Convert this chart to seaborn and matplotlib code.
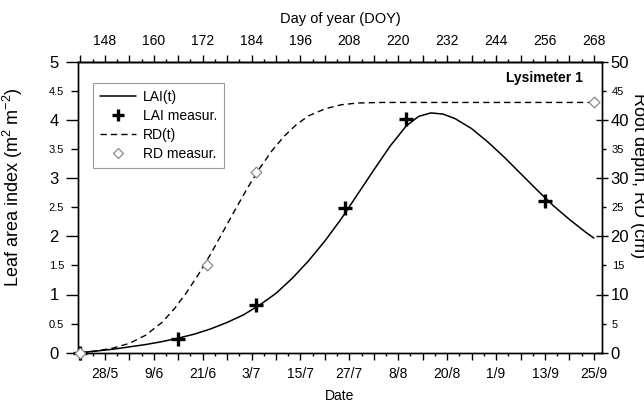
import datetime as dt
import numpy as np
import pandas as pd
import matplotlib
matplotlib.use("Agg")
import matplotlib.pyplot as plt
import seaborn as sns
from matplotlib.ticker import FixedLocator, FuncFormatter, MultipleLocator
from matplotlib.lines import Line2D

# ---- data ----
lai_curve_doy = [142, 146, 150, 154, 158, 162, 166, 170, 174, 178, 182, 186, 190, 194,
                 198, 202, 206, 210, 214, 218, 222, 225, 228, 231, 234, 238, 242, 246,
                 250, 254, 258, 262, 266, 268]
lai_curve_val = [0.0, 0.03, 0.06, 0.10, 0.14, 0.19, 0.25, 0.32, 0.41, 0.52, 0.65, 0.82, 1.02, 1.28,
                 1.58, 1.92, 2.30, 2.72, 3.14, 3.55, 3.90, 4.06, 4.12, 4.10, 4.02, 3.85, 3.62, 3.36,
                 3.08, 2.80, 2.53, 2.29, 2.07, 1.97]
rd_curve_doy = [142, 146, 150, 154, 158, 162, 165, 168, 171, 174, 177, 180, 183, 186,
                189, 192, 195, 198, 202, 206, 210, 216, 230, 268]
rd_curve_val = [0.0, 0.3, 0.8, 1.6, 3.0, 5.2, 7.5, 10.3, 13.5, 17.0, 20.8, 24.6, 28.3, 31.7,
                34.7, 37.2, 39.2, 40.7, 41.9, 42.6, 42.9, 43.0, 43.0, 43.0]
lai_meas_doy = [142, 166, 185, 207, 222, 256]
lai_meas_val = [0.0, 0.24, 0.82, 2.48, 4.02, 2.60]
rd_meas_doy = [142, 173, 185, 268]
rd_meas_val = [0.0, 15.0, 31.0, 43.0]
doy_labels = [148, 160, 172, 184, 196, 208, 220, 232, 244, 256, 268]

lai_curve = pd.DataFrame({"doy": lai_curve_doy, "lai": lai_curve_val})
rd_curve = pd.DataFrame({"doy": rd_curve_doy, "rd": rd_curve_val})
lai_meas = pd.DataFrame({"doy": lai_meas_doy, "lai": lai_meas_val})
rd_meas = pd.DataFrame({"doy": rd_meas_doy, "rd": rd_meas_val})

sns.set_theme(style="ticks", rc={"axes.edgecolor": "black", "axes.linewidth": 1.0,
                                 "xtick.color": "black", "ytick.color": "black",
                                 "text.color": "black", "axes.labelcolor": "black"})
plt.rcParams["font.family"] = ["Liberation Sans", "DejaVu Sans"]
plt.rcParams["mathtext.fontset"] = "custom"
plt.rcParams["mathtext.rm"] = "Liberation Sans"
plt.rcParams["mathtext.it"] = "Liberation Sans:italic"

W, H = 644, 403
fig = plt.figure(figsize=(W / 100, H / 100), dpi=100)
x0, x1, ytop, ybot = 78, 602, 61.7, 352.7
ax = fig.add_axes([x0 / W, 1 - ybot / H, (x1 - x0) / W, (ybot - ytop) / H])
ax2 = ax.twinx()

sns.lineplot(data=lai_curve, x="doy", y="lai", ax=ax, color="black", linewidth=1.1,
             estimator=None, sort=False)
sns.scatterplot(data=lai_meas, x="doy", y="lai", ax=ax, marker="+", s=110,
                color="black", linewidths=2.4, zorder=5, clip_on=False)
sns.lineplot(data=rd_curve, x="doy", y="rd", ax=ax2, color="black", linewidth=1.0,
             linestyle=(0, (4.5, 3)), estimator=None, sort=False)
sns.scatterplot(data=rd_meas, x="doy", y="rd", ax=ax2, marker="D", s=30,
                facecolor="white", edgecolor="#8c8c8c", linewidth=0.9, zorder=6, clip_on=False)

ax.set_xlim(141.4, 270)
ax.set_ylim(0, 5)
ax2.set_ylim(0, 50)

# x ticks (date below, DOY on top)
major_x = list(range(142, 271, 6))
minor_x = list(range(145, 270, 6))


def date_fmt(v, p):
    v = int(round(v))
    if (v - 148) % 12 != 0:
        return ""
    d = dt.date(2001, 1, 1) + dt.timedelta(days=v - 1)
    return f"{d.day}/{d.month}"


def doy_fmt(v, p):
    v = int(round(v))
    return str(v) if v in doy_labels else ""


ax.xaxis.set_major_locator(FixedLocator(major_x))
ax.xaxis.set_minor_locator(FixedLocator(minor_x))
ax.xaxis.set_major_formatter(FuncFormatter(date_fmt))
ax.tick_params(axis="x", which="major", direction="out", length=5, width=1,
               labelsize=10, pad=5)
ax.tick_params(axis="x", which="minor", direction="out", length=2.5, width=1)

sec = ax.secondary_xaxis("top")
sec.xaxis.set_major_locator(FixedLocator(major_x))
sec.xaxis.set_minor_locator(FixedLocator(minor_x))
sec.xaxis.set_major_formatter(FuncFormatter(doy_fmt))
sec.tick_params(axis="x", which="major", direction="out", length=5, width=1,
                labelsize=10, pad=5)
sec.tick_params(axis="x", which="minor", direction="out", length=2.5, width=1)
sec.set_xlabel("Day of year (DOY)", fontsize=10.5, labelpad=8)

# y ticks left
ax.yaxis.set_major_locator(MultipleLocator(1))
ax.yaxis.set_minor_locator(MultipleLocator(0.5))
ax.yaxis.set_major_formatter(FuncFormatter(lambda v, p: f"{v:g}"))
ax.yaxis.set_minor_formatter(FuncFormatter(lambda v, p: f"{v:g}"))
ax.tick_params(axis="y", which="major", direction="out", length=9, width=1,
               labelsize=12, pad=5)
ax.tick_params(axis="y", which="minor", direction="out", length=5, width=1,
               labelsize=8, pad=5)

# y ticks right
ax2.yaxis.set_major_locator(MultipleLocator(10))
ax2.yaxis.set_minor_locator(MultipleLocator(5))
ax2.yaxis.set_major_formatter(FuncFormatter(lambda v, p: f"{v:g}"))
ax2.yaxis.set_minor_formatter(FuncFormatter(lambda v, p: f"{v:g}"))
ax2.tick_params(axis="y", which="major", direction="inout", length=8, width=1,
                labelsize=12, pad=2)
ax2.tick_params(axis="y", which="minor", direction="out", length=3, width=1,
                labelsize=8, pad=4)

ax.set_xlabel("Date", fontsize=10, labelpad=6)
ax.set_ylabel("Leaf area index (m$^{2}$ m$^{-2}$)", fontsize=13)
ax.yaxis.set_label_coords(-0.101, 0.569)
ax2.set_ylabel("")
fig.text(639 / W, 1 - 176 / H, "Root depth, RD (cm)", rotation=270, fontsize=13,
         ha="center", va="center")

ax.text(0.964, 0.944, "Lysimeter 1", transform=ax.transAxes, ha="right", va="center",
        fontsize=10, fontweight="bold")

handles = [
    Line2D([], [], color="black", lw=1.1),
    Line2D([], [], color="black", marker="+", ls="", markersize=9, markeredgewidth=2.4),
    Line2D([], [], color="black", lw=1.0, ls=(0, (4.5, 3))),
    Line2D([], [], marker="D", ls="", markersize=5.5, markerfacecolor="white",
           markeredgecolor="#8c8c8c", markeredgewidth=0.9),
]
labels = ["LAI(t)", "LAI measur.", "RD(t)", "RD measur."]
leg = ax2.legend(handles, labels, loc="upper left", bbox_to_anchor=(0.0286, 0.926),
                 borderaxespad=0, fontsize=10, frameon=True, fancybox=False,
                 handlelength=2.6, handletextpad=0.5, labelspacing=0.35,
                 borderpad=0.5, framealpha=1)
leg.get_frame().set_edgecolor("#9a9a9a")
leg.get_frame().set_linewidth(0.8)

fig.savefig("out.png", dpi=100)
